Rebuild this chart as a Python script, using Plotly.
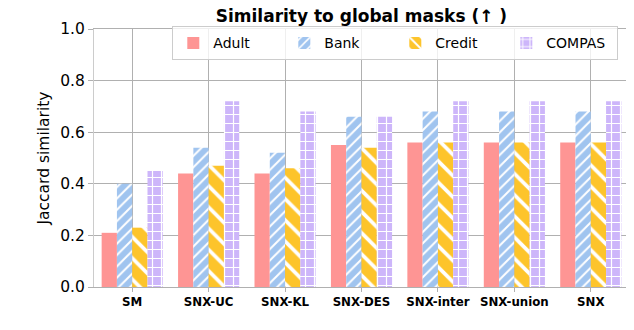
import plotly.graph_objects as go

categories = ["SM", "SNX-UC", "SNX-KL", "SNX-DES", "SNX-inter", "SNX-union", "SNX"]
adult = [0.21, 0.44, 0.44, 0.55, 0.56, 0.56, 0.56]
bank = [0.40, 0.54, 0.52, 0.66, 0.68, 0.68, 0.68]
credit = [0.23, 0.47, 0.46, 0.54, 0.56, 0.56, 0.56]
compas = [0.45, 0.72, 0.68, 0.66, 0.72, 0.72, 0.72]
y_ticks = [0.0, 0.2, 0.4, 0.6, 0.8, 1.0]

series = [
    ("Adult", adult, "#fe9594", "", 8),
    ("Bank", bank, "#a0c4ef", "/", 8),
    ("Credit", credit, "#fdc42b", "\\", 15),
    ("COMPAS", compas, "#cdb6fa", "+", 9),
]

fig = go.Figure()
for name, vals, col, shape, size in series:
    pat = dict(shape=shape, fgcolor="white", bgcolor=col, size=size, solidity=0.25, fillmode="replace") if shape else None
    fig.add_trace(go.Bar(
        name=name, x=categories, y=vals,
        marker=dict(color=col, line=dict(width=0), pattern=pat),
    ))

fig.update_layout(
    width=634, height=330,
    margin=dict(l=86, r=13, t=17, b=51),
    plot_bgcolor="white", paper_bgcolor="white",
    barmode="group", bargap=0.2, bargroupgap=0,
    font=dict(family="DejaVu Sans", color="black"),
    title=dict(text="<b>Similarity to global masks (↑ )</b>", x=0.5575, xanchor="center",
               y=0.977, yanchor="middle", font=dict(size=17)),
    legend=dict(orientation="h", x=0.98, xanchor="right", y=1.01, yanchor="top",
                bordercolor="#cccccc", borderwidth=1, bgcolor="rgba(255,255,255,0.8)",
                font=dict(size=14), itemwidth=30, entrywidth=66, entrywidthmode="pixels",
                traceorder="normal"),
)
fig.update_xaxes(
    range=[-0.5, 6.5], showgrid=True, gridcolor="#b0b0b0", gridwidth=1,
    ticks="outside", ticklen=4, tickcolor="#b0b0b0",
    showline=True, linecolor="#b0b0b0", mirror=True,
    tickfont=dict(size=11.8, family="DejaVu Sans"), ticktext=["<b>%s</b>" % c for c in categories],
    tickvals=categories, layer="above traces",
)
fig.update_yaxes(
    range=[0, 1.0], tickvals=y_ticks, ticktext=["%.1f" % v for v in y_ticks],
    showgrid=True, gridcolor="#b0b0b0", gridwidth=1,
    ticks="outside", ticklen=5, tickcolor="#b0b0b0",
    showline=True, linecolor="#cccccc", mirror=True, zeroline=False,
    tickfont=dict(size=15.5), title=dict(text="Jaccard similarity", font=dict(size=15.5), standoff=6),
    layer="above traces",
)
fig.add_shape(type="line", xref="paper", yref="paper", x0=1, x1=1, y0=0, y1=1,
              line=dict(color="black", width=1.3))
fig.write_html("out.html")
